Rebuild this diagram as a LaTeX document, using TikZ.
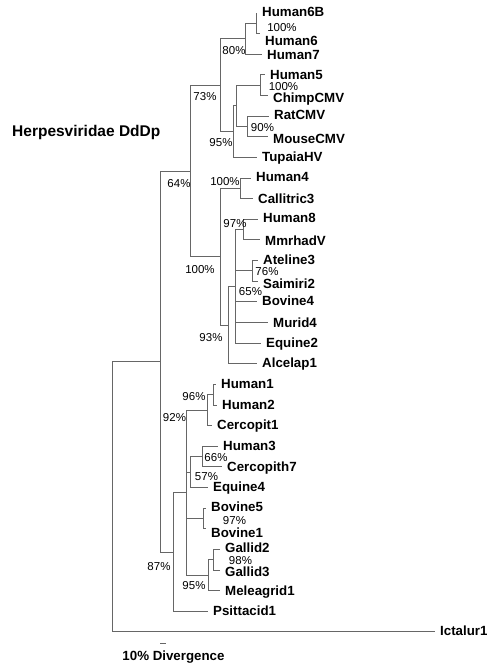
\documentclass[tikz,border=0pt]{standalone}
\usepackage{fontspec}
\setmainfont{Liberation Sans}
\begin{document}
\begin{tikzpicture}[x=1pt,y=-1pt,
  br/.style={draw=black!60, line width=0.9pt},
  leaf/.style={anchor=west, inner xsep=5pt, inner ysep=0pt,
    font=\fontsize{13.3}{14}\selectfont\bfseries, text height=0.716em, text depth=0pt},
  pct/.style={inner sep=0pt, font=\fontsize{11.5}{12}\selectfont,
    text height=0.716em, text depth=0pt},
  ttl/.style={anchor=west, inner sep=0pt, font=\fontsize{15.5}{16}\selectfont\bfseries,
    text height=0.716em, text depth=0pt}]
\useasboundingbox (0,0) rectangle (487,667);

% ---------- leaves (text positions) ----------
\node[leaf] (h6b)   at (257,13.00)  {Human6B};
\node[leaf] (h6)    at (260,41.63)  {Human6};
\node[leaf] (h7)    at (262,56.26)  {Human7};
\node[leaf] (h5)    at (265,75.89)  {Human5};
\node[leaf] (chimp) at (268,98.52)  {ChimpCMV};
\node[leaf] (rat)   at (269,116.15) {RatCMV};
\node[leaf] (mouse) at (268,139.78) {MouseCMV};
\node[leaf] (tup)   at (257,158.41) {TupaiaHV};
\node[leaf] (h4)    at (251,178.04) {Human4};
\node[leaf] (cal)   at (253,199.67) {Callitric3};
\node[leaf] (h8)    at (258,219.30) {Human8};
\node[leaf] (mmr)   at (260,241.93) {MmrhadV};
\node[leaf] (ate)   at (258,260.56) {Ateline3};
\node[leaf] (sai)   at (258,285.19) {Saimiri2};
\node[leaf] (bov4)  at (257,302.32) {Bovine4};
\node[leaf] (mur)   at (268,323.45) {Murid4};
\node[leaf] (equ2)  at (261,343.58) {Equine2};
\node[leaf] (alc)   at (257,363.71) {Alcelap1};
\node[leaf] (h1)    at (216,384.84) {Human1};
\node[leaf] (h2)    at (217,405.97) {Human2};
\node[leaf] (cer1)  at (212,426.10) {Cercopit1};
\node[leaf] (h3)    at (218,446.73) {Human3};
\node[leaf] (cer7)  at (222,468.36) {Cercopith7};
\node[leaf] (equ4)  at (208,487.49) {Equine4};
\node[leaf] (bov5)  at (206,508.12) {Bovine5};
\node[leaf] (bov1)  at (206,534.25) {Bovine1};
\node[leaf] (gal2)  at (220,549.38) {Gallid2};
\node[leaf] (gal3)  at (220,573.01) {Gallid3};
\node[leaf] (mel)   at (220,591.64) {Meleagrid1};
\node[leaf] (psi)   at (208,612.27) {Psittacid1};
\node[leaf] (ict)   at (435,631.90) {Ictalur1};

% ---------- branch ends (where text sits off its branch) ----------
\coordinate (e-h6)    at ([yshift=8pt]h6.west);
\coordinate (e-h7)    at ([yshift=2pt]h7.west);
\coordinate (e-h5)    at ([yshift=1pt]h5.west);
\coordinate (e-chimp) at ([yshift=3pt]chimp.west);
\coordinate (e-mouse) at ([yshift=3pt]mouse.west);
\coordinate (e-tup)   at ([yshift=1pt]tup.west);
\coordinate (e-cal)   at ([yshift=1pt]cal.west);
\coordinate (e-mmr)   at ([yshift=2pt]mmr.west);
\coordinate (e-sai)   at ([yshift=4pt]sai.west);
\coordinate (e-bov4)  at ([yshift=0.5pt]bov4.west);
\coordinate (e-mur)   at ([yshift=1pt]mur.west);
\coordinate (e-equ2)  at ([yshift=0.5pt]equ2.west);
\coordinate (e-h1)    at ([yshift=0.5pt]h1.west);
\coordinate (e-h2)    at ([yshift=1pt]h2.west);
\coordinate (e-cer1)  at ([yshift=0.5pt]cer1.west);
\coordinate (e-h3)    at ([yshift=0.5pt]h3.west);
\coordinate (e-cer7)  at ([yshift=1.5pt]cer7.west);
\coordinate (e-bov1)  at ([yshift=5.5pt]bov1.west);
\coordinate (e-gal3)  at ([yshift=3pt]gal3.west);
\coordinate (e-mel)   at ([yshift=1pt]mel.west);
\coordinate (e-psi)   at ([yshift=1pt]psi.west);

% ---------- internal nodes ----------
\coordinate (nH6)  at (256,23.32);
\coordinate (n80)  at (245,38.79);
\coordinate (nH5)  at (260,85.21);
\coordinate (n90)  at (247,126.47);
\coordinate (nA)   at (236,105.84);
\coordinate (n95u) at (233,131.63);
\coordinate (n73)  at (220,85.21);
\coordinate (nH4)  at (240,188.36);
\coordinate (n97)  at (243,229.62);
\coordinate (n76)  at (252.7,270.88);
\coordinate (n65)  at (235,286.35);
\coordinate (n93)  at (228,325.03);
\coordinate (n100) at (220,256.70);
\coordinate (n64)  at (190,170.96);
\coordinate (n96)  at (213,394.66);
\coordinate (n92)  at (207,410.13);
\coordinate (n66)  at (202,456.55);
\coordinate (n57)  at (190,472.02);
\coordinate (nBov) at (203,518.44);
\coordinate (nGal) at (213,559.70);
\coordinate (n95l) at (208,575.17);
\coordinate (nX)   at (186,492.65);
\coordinate (n87)  at (173,551.96);
\coordinate (nIn)  at (160,361.46);
\coordinate (root) at (112,496.68);

% ---------- branches ----------
\draw[br] (nH6) |- (h6b.west) (nH6) |- (e-h6);
\draw[br] (n80) |- (nH6) (n80) |- (e-h7);
\draw[br] (nH5) |- (e-h5) (nH5) |- (e-chimp);
\draw[br] (n90) |- (rat.west) (n90) |- (e-mouse);
\draw[br] (nA) |- (nH5) (nA) |- (n90);
\draw[br] (n95u) |- (nA) (n95u) |- (e-tup);
\draw[br] (n73) |- (n80) (n73) |- (n95u);
\draw[br] (nH4) |- (h4.west) (nH4) |- (e-cal);
\draw[br] (n97) |- (h8.west) (n97) |- (e-mmr);
\draw[br] (n76) |- (ate.west) (n76) |- (e-sai);
\draw[br] (n65) |- (n97) (n65) |- (n76) (n65) |- (e-bov4)
          (n65) |- (e-mur) (n65) |- (e-equ2);
\draw[br] (n93) |- (n65) (n93) |- (alc.west);
\draw[br] (n100) |- (nH4) (n100) |- (n93);
\draw[br] (n64) |- (n73) (n64) |- (n100);
\draw[br] (n96) |- (e-h1) (n96) |- (e-h2);
\draw[br] (n92) |- (n96) (n92) |- (e-cer1);
\draw[br] (n66) |- (e-h3) (n66) |- (e-cer7);
\draw[br] (n57) |- (n66) (n57) |- (equ4.west);
\draw[br] (nBov) |- (bov5.west) (nBov) |- (e-bov1);
\draw[br] (nGal) |- (gal2.west) (nGal) |- (e-gal3);
\draw[br] (n95l) |- (nGal) (n95l) |- (e-mel);
\draw[br] (nX) |- (n92) (nX) |- (n57) (nX) |- (nBov) (nX) |- (n95l);
\draw[br] (n87) |- (nX) (n87) |- (e-psi);
\draw[br] (nIn) |- (n64) (nIn) |- (n87);
\draw[br] (root) |- (nIn) (root) |- (ict.west);

% ---------- support values ----------
\node[pct] (p1)  at (282,28)    {100\%};
\node[pct] (p2)  at (234,51)    {80\%};
\node[pct] (p3)  at (205,97)    {73\%};
\node[pct] (p4)  at (283.5,87)  {100\%};
\node[pct] (p5)  at (262.5,128) {90\%};
\node[pct] (p6)  at (221,143)   {95\%};
\node[pct] (p7)  at (179,184)   {64\%};
\node[pct] (p8)  at (225,182)   {100\%};
\node[pct] (p9)  at (235,224)   {97\%};
\node[pct] (p10) at (200,270)   {100\%};
\node[pct] (p11) at (267,272)   {76\%};
\node[pct] (p12) at (250.5,292) {65\%};
\node[pct] (p13) at (211,338)   {93\%};
\node[pct] (p14) at (194,397)   {96\%};
\node[pct] (p15) at (174.5,418) {92\%};
\node[pct] (p16) at (216,458)   {66\%};
\node[pct] (p17) at (206.5,477) {57\%};
\node[pct] (p18) at (234.5,521) {97\%};
\node[pct] (p19) at (240.5,561) {98\%};
\node[pct] (p20) at (159,567)   {87\%};
\node[pct] (p21) at (194,586)   {95\%};

% ---------- title and scale ----------
\node[ttl] (title) at (12,133) {Herpesviridae DdDp};
\coordinate (sbA) at (160,643);
\coordinate (sbB) at (166,643);
\draw[br] (sbA) -- (sbB);
\node[leaf, anchor=center, inner xsep=0pt] (scale) at (173.5,657) {10\% Divergence};
\end{tikzpicture}
\end{document}
